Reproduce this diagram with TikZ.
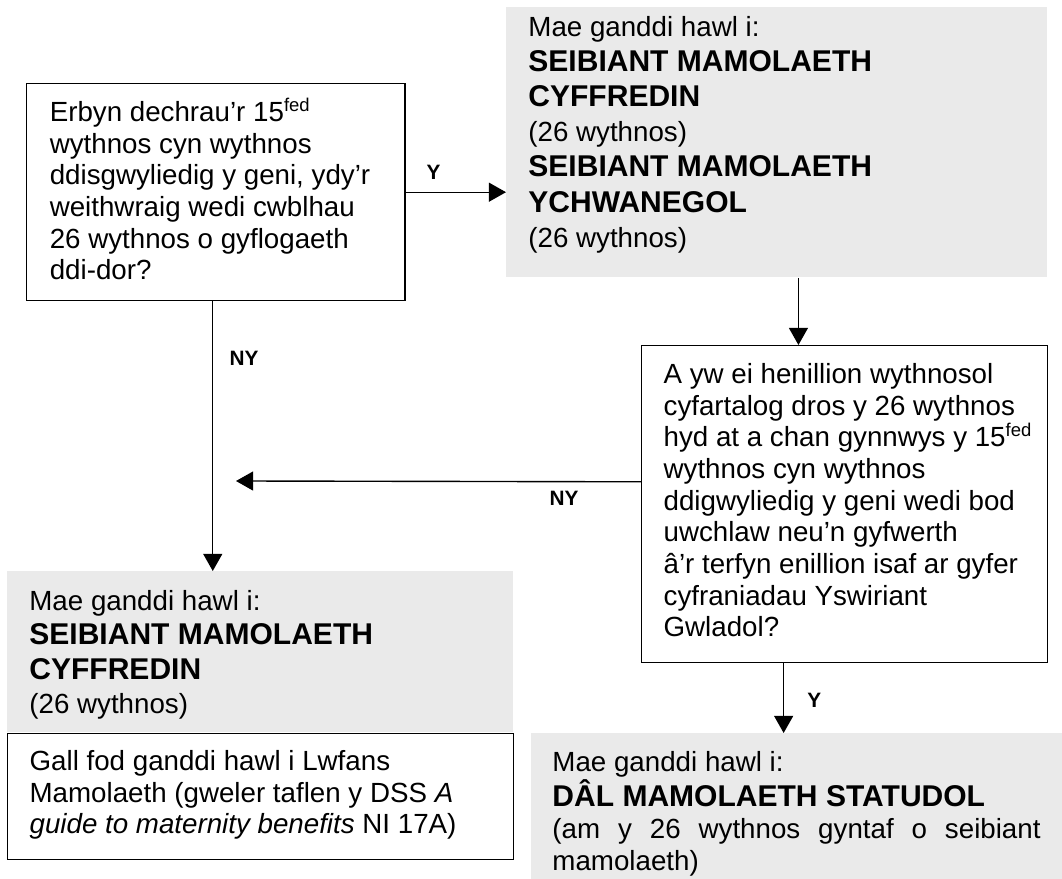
\documentclass[tikz,border=0pt]{standalone}
\usepackage{fontspec}
\setmainfont{Liberation Sans}
\usetikzlibrary{arrows.meta}
\definecolor{boxgrey}{RGB}{234,234,234}
\newcommand{\hawl}[1]{{\fontsize{13}{15}\selectfont\bfseries #1}}
\newcommand{\fedsup}{\rlap{\textsuperscript{fed}}}

\begin{document}
\begin{tikzpicture}[x=0.4329pt,y=-0.4329pt,
  every node/.style={font=\fontsize{12}{13.7}\selectfont, inner ysep=0pt, align=flush left},
  qbox/.style={draw, line width=0.6pt, anchor=north west},
  greybox/.style={fill=boxgrey, anchor=north west},
  lbl/.style={font=\fontsize{9}{10}\selectfont\bfseries, inner sep=2pt},
  arr/.style={line width=0.6pt, -{Triangle[length=7.4pt,width=8.2pt]}}]
\useasboundingbox (0,0) rectangle (1062,879);

\node[qbox, inner xsep=10pt, text width=143.7pt, text height=16.45pt, text depth=77.5pt] (A) at (26,83)
  {Erbyn dechrau’r 15\fedsup\\ wythnos cyn wythnos\\ ddisgwyliedig y geni, ydy’r\\ weithwraig wedi cwblhau\\ 26 wythnos o gyflogaeth\\ ddi-dor?};
\node[greybox, font=\fontsize{12}{15.2}\selectfont, inner xsep=9.5pt, text width=215.2pt, text height=12.55pt, text depth=104.3pt] (B) at (506,7)
  {Mae ganddi hawl i:\\ \hawl{SEIBIANT MAMOLAETH}\\ \hawl{CYFFREDIN}\\ (26 wythnos)\\ \hawl{SEIBIANT MAMOLAETH}\\ \hawl{YCHWANEGOL}\\ (26 wythnos)};
\node[qbox, inner xsep=9.5pt, text width=156.7pt, text height=16.45pt, text depth=120.8pt] (C) at (641,345)
  {A yw ei henillion wythnosol\\ cyfartalog dros y 26 wythnos\\ hyd at a chan gynnwys y 15\fedsup\\ wythnos cyn wythnos\\ ddigwyliedig y geni wedi bod\\ uwchlaw neu’n gyfwerth\\ â’r terfyn enillion isaf ar gyfer\\ cyfraniadau Yswiriant\\ Gwladol?};
\node[greybox, font=\fontsize{12}{14.9}\selectfont, inner xsep=9.5pt, text width=200pt, text height=16.9pt, text depth=52.8pt] (D) at (7,571)
  {Mae ganddi hawl i:\\ \hawl{SEIBIANT MAMOLAETH}\\ \hawl{CYFFREDIN}\\ (26 wythnos)};
\node[qbox, inner xsep=9.5pt, text width=200pt, text height=16pt, text depth=38.5pt] (E) at (7,733)
  {Gall fod ganddi hawl i Lwfans\\ Mamolaeth (gweler taflen y DSS \textit{A}\\ \textit{guide to maternity benefits} NI 17A)};
\node[greybox, font=\fontsize{12}{13.9}\selectfont, align=justify, inner xsep=9.1pt, text width=211.3pt, text height=16.45pt, text depth=46.75pt] (F) at (531,733)
  {\tolerance=9999 Mae ganddi hawl i:\\ \hawl{DÂL MAMOLAETH STATUDOL}\\ (am y 26 wythnos gyntaf o seibiant \mbox{mamolaeth)}};

\coordinate (nyend) at (236,481);
\draw[arr] (A.east) -- node[lbl, pos=0.28, above=3pt] {Y} (A.east -| B.west);
\draw[arr] ([xshift=9.3pt]B.south) -- ([xshift=9.3pt]B.south |- C.north);
\draw[arr] ([yshift=9.7pt]C.west) -- node[lbl, pos=0.19, below=2pt] {NY} (nyend);
\draw[arr] ([xshift=-1.3pt]A.south) -- node[lbl, pos=0.21, right=5pt] {NY} ([xshift=-1.3pt]A.south |- D.north);
\draw[arr] ([xshift=-26.4pt]C.south) -- node[lbl, pos=0.53, right=8pt] {Y} ([xshift=-26.4pt]C.south |- F.north);
\end{tikzpicture}
\end{document}
